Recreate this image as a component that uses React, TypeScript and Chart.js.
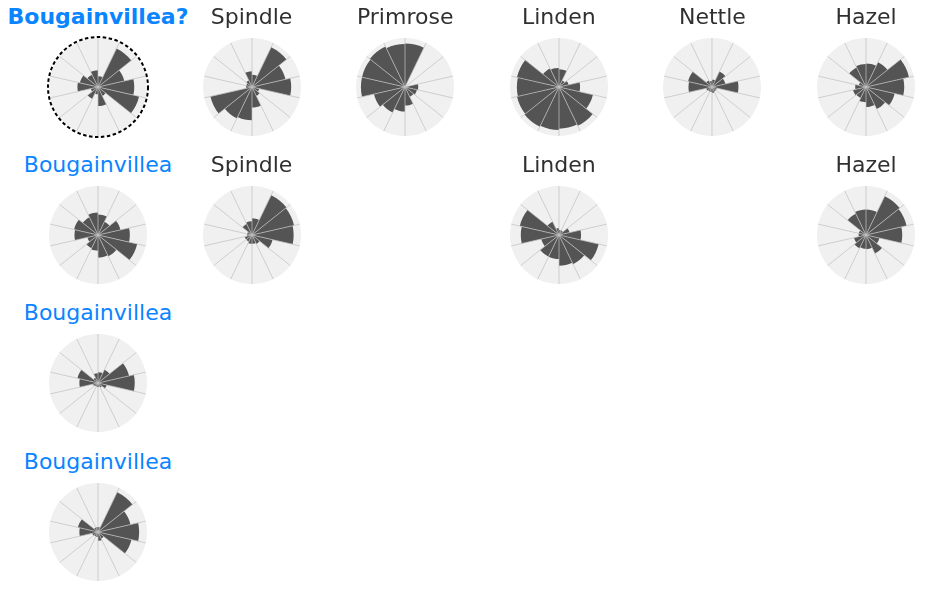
import React, { useEffect, useRef } from 'react';
import { Chart, registerables } from 'chart.js';

Chart.register(...registerables);

// 14 equal sectors, clockwise from north
const sectorLabels = ['0°', '26°', '51°', '77°', '103°', '129°', '154°', '180°', '206°', '231°', '257°', '283°', '309°', '334°'];

const bougainvilleaQ = [22, 87, 55, 74, 86, 20, 39, 15, 27, 15, 42, 38, 28, 34];
const spindle1 = [25, 90, 70, 80, 15, 20, 42, 68, 71, 87, 12, 12, 15, 32];
const primrose = [89, 1, 1, 27, 25, 22, 38, 50, 58, 65, 90, 90, 92, 88];
const linden1 = [36, 15, 20, 43, 71, 88, 85, 88, 90, 88, 86, 88, 42, 39];
const nettle = [15, 35, 28, 54, 10, 10, 12, 10, 10, 12, 48, 50, 15, 12];
const hazel1 = [48, 56, 90, 78, 60, 50, 41, 31, 25, 27, 22, 15, 44, 47];
const bougainvillea2 = [42, 30, 47, 65, 82, 48, 46, 32, 30, 22, 48, 50, 40, 46];
const spindle2 = [34, 90, 88, 85, 43, 20, 18, 18, 15, 15, 10, 10, 25, 28];
const linden2 = [10, 10, 22, 45, 83, 66, 63, 49, 49, 37, 78, 82, 30, 14];
const hazel2 = [52, 88, 85, 74, 28, 42, 29, 28, 30, 25, 15, 15, 48, 52];
const bougainvillea3 = [22, 30, 65, 75, 18, 10, 8, 8, 8, 10, 38, 43, 12, 20];
const bougainvillea4 = [10, 90, 68, 84, 70, 15, 18, 10, 10, 12, 38, 42, 10, 10];

const rMax = 100;

const BLUE = '#0a84ff';
const DARK = '#303030';
const BAR = '#545454';

type Cell = {
  row: number;
  col: number;
  title: string;
  values: number[];
  color: string;
  bold?: boolean;
  highlight?: boolean;
};

const cells: Cell[] = [
  { row: 0, col: 0, title: 'Bougainvillea?', values: bougainvilleaQ, color: BLUE, bold: true, highlight: true },
  { row: 0, col: 1, title: 'Spindle', values: spindle1, color: DARK },
  { row: 0, col: 2, title: 'Primrose', values: primrose, color: DARK },
  { row: 0, col: 3, title: 'Linden', values: linden1, color: DARK },
  { row: 0, col: 4, title: 'Nettle', values: nettle, color: DARK },
  { row: 0, col: 5, title: 'Hazel', values: hazel1, color: DARK },
  { row: 1, col: 0, title: 'Bougainvillea', values: bougainvillea2, color: BLUE },
  { row: 1, col: 1, title: 'Spindle', values: spindle2, color: DARK },
  { row: 1, col: 3, title: 'Linden', values: linden2, color: DARK },
  { row: 1, col: 5, title: 'Hazel', values: hazel2, color: DARK },
  { row: 2, col: 0, title: 'Bougainvillea', values: bougainvillea3, color: BLUE },
  { row: 3, col: 0, title: 'Bougainvillea', values: bougainvillea4, color: BLUE },
];

const COL_X0 = 98;
const COL_DX = 153.6;
const ROW_Y0 = 86.7;
const ROW_DY = 148.3;
const RADIUS = 49;
const BOX = 120;

const spokesPlugin = {
  id: 'spokesOnTop',
  afterDatasetsDraw(chart: any) {
    const s = chart.scales.r;
    const n = chart.data.labels.length;
    const ctx = chart.ctx;
    ctx.save();
    ctx.strokeStyle = 'rgba(192,192,192,0.72)';
    ctx.lineWidth = 1;
    for (let i = 0; i < n; i++) {
      const a = s.getIndexAngle(i) - Math.PI / 2;
      ctx.beginPath();
      ctx.moveTo(s.xCenter, s.yCenter);
      ctx.lineTo(s.xCenter + s.drawingArea * Math.cos(a), s.yCenter + s.drawingArea * Math.sin(a));
      ctx.stroke();
    }
    ctx.restore();
  },
};

const dashedRingPlugin = {
  id: 'dashedRing',
  afterDraw(chart: any) {
    const s = chart.scales.r;
    const ctx = chart.ctx;
    ctx.save();
    ctx.strokeStyle = '#000000';
    ctx.lineWidth = 2;
    ctx.setLineDash([3.5, 2.5]);
    ctx.beginPath();
    ctx.arc(s.xCenter, s.yCenter, s.drawingArea + 1, 0, Math.PI * 2);
    ctx.stroke();
    ctx.restore();
  },
};

function PolarCell({ cell }: { cell: Cell }) {
  const ref = useRef<HTMLCanvasElement | null>(null);
  useEffect(() => {
    if (!ref.current) return;
    const plugins: any[] = [spokesPlugin];
    if (cell.highlight) plugins.push(dashedRingPlugin);
    const chart = new Chart(ref.current, {
      type: 'polarArea',
      data: {
        labels: sectorLabels,
        datasets: [
          {
            data: cell.values,
            backgroundColor: BAR,
            borderWidth: 0,
          },
        ],
      },
      options: {
        responsive: false,
        animation: false,
        events: [],
        layout: { padding: (BOX - 2 * RADIUS) / 2 },
        plugins: {
          legend: { display: false },
          tooltip: { enabled: false },
          title: { display: false },
        },
        scales: {
          r: {
            min: 0,
            max: rMax,
            startAngle: 0,
            backgroundColor: '#f0f0f0',
            angleLines: { display: false },
            grid: { display: false },
            ticks: { display: false },
            pointLabels: { display: false },
          },
        },
      } as any,
      plugins,
    });
    return () => chart.destroy();
  }, [cell]);

  const cx = COL_X0 + COL_DX * cell.col;
  const cy = ROW_Y0 + ROW_DY * cell.row;
  return (
    <>
      <div
        style={{
          position: 'absolute',
          left: cx - 100,
          width: 200,
          top: 3.8 + ROW_DY * cell.row,
          textAlign: 'center',
          fontFamily: '"DejaVu Sans", sans-serif',
          fontSize: 22,
          lineHeight: '26px',
          fontWeight: cell.bold ? 'bold' : 'normal',
          color: cell.color,
          whiteSpace: 'nowrap',
        }}
      >
        {cell.title}
      </div>
      <canvas
        ref={ref}
        width={BOX}
        height={BOX}
        style={{ position: 'absolute', left: cx - BOX / 2, top: cy - BOX / 2, width: BOX, height: BOX }}
      />
    </>
  );
}

export default function App() {
  return (
    <div
      style={{
        position: 'absolute',
        left: 0,
        top: 0,
        width: 925,
        height: 592,
        background: '#ffffff',
        overflow: 'hidden',
      }}
    >
      {cells.map((c, i) => (
        <PolarCell key={i} cell={c} />
      ))}
    </div>
  );
}
